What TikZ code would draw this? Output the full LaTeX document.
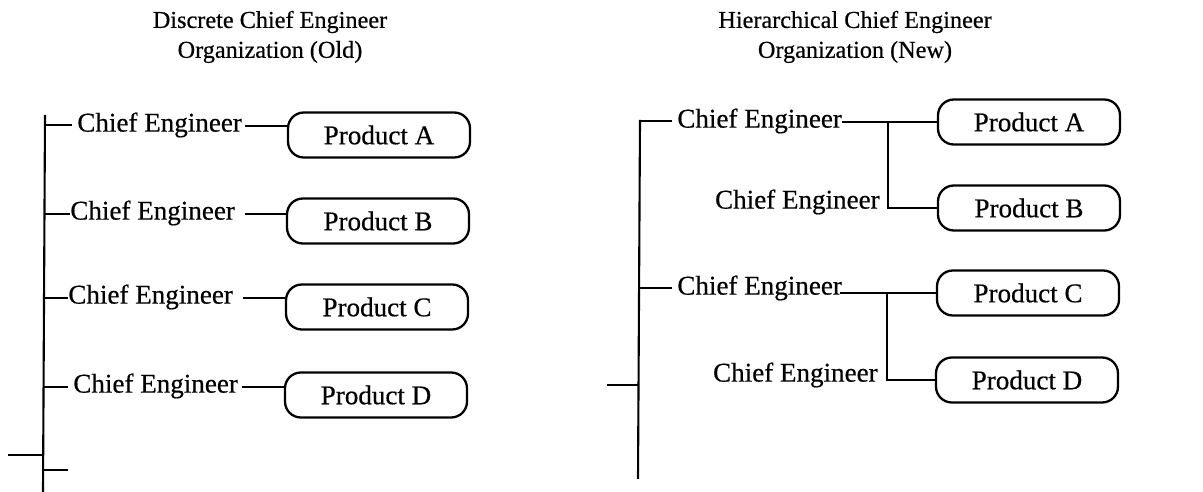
\documentclass[tikz,border=0pt]{standalone}
\usepackage{fontspec}
\setmainfont{Liberation Serif}[FakeBold=0.5]
\begin{document}
\begin{tikzpicture}[x=0.02cm,y=-0.02cm,
  line/.style={line width=1.2pt},
  cetext/.style={font=\fontsize{15.4}{18}\selectfont, inner sep=0pt},
  title/.style={font=\fontsize{13.8}{17}\selectfont, inner sep=0pt},
  prod/.style={draw, line width=1.3pt, rounded corners=9pt, minimum width=3.64cm, minimum height=0.9cm, inner sep=0pt, font=\fontsize{15.4}{18}\selectfont}]
\useasboundingbox (0,0) rectangle (1203,492);

% ---------- titles ----------
\node[title] (t1a) at (270,22) {Discrete Chief Engineer};
\node[title] (t1b) at (270,52) {Organization (Old)};
\node[title] (t2a) at (855,22) {Hierarchical Chief Engineer};
\node[title] (t2b) at (855,52) {Organization (New)};

% ---------- left panel ----------
\coordinate (Ltop) at (45,115);
\coordinate (Lbot) at (43,492);
\draw[line] (Ltop) -- (Lbot);

\node[cetext, anchor=west] (ceA) at (77,125) {Chief Engineer};
\node[cetext, anchor=west] (ceB) at (70,213) {Chief Engineer};
\node[cetext, anchor=west] (ceC) at (68,297) {Chief Engineer};
\node[cetext, anchor=west] (ceD) at (73,386) {Chief Engineer};

\node[prod] (pA) at (379,135) {Product A};
\node[prod] (pB) at (378,221) {Product B};
\node[prod] (pC) at (377,307) {Product C};
\node[prod] (pD) at (376,395) {Product D};

\coordinate (tkA) at (45,125);
\coordinate (tkB) at (44,214);
\coordinate (tkC) at (44,298);
\coordinate (tkD) at (43,387);
\draw[line] (tkA) -- (72,125);
\draw[line] (tkB) -- (ceB.west |- tkB);
\draw[line] (tkC) -- (ceC.west |- tkC);
\draw[line] (tkD) -- (68,387);

\coordinate (sA) at (245,126);
\coordinate (sB) at (245,214);
\coordinate (sC) at (243,298);
\coordinate (sD) at (242,387);
\draw[line] (sA) -- (sA -| pA.west);
\draw[line] (sB) -- (sB -| pB.west);
\draw[line] (sC) -- (sC -| pC.west);
\draw[line] (sD) -- (sD -| pD.west);

\coordinate (Lx1) at (8,455);
\draw[line] (Lx1) -- (43,455);
\coordinate (Lx2) at (68,470);
\draw[line] (43,470) -- (Lx2);

% ---------- right panel ----------
\coordinate (Rtop) at (640,120);
\coordinate (Rbot) at (638,479);
\draw[line] (Rtop) -- (Rbot);

\node[cetext, anchor=west] (rceA) at (677,121) {Chief Engineer};
\node[cetext, anchor=east] (rceB) at (880,202) {Chief Engineer};
\node[cetext, anchor=west] (rceC) at (677,288) {Chief Engineer};
\node[cetext, anchor=east] (rceD) at (878,375) {Chief Engineer};

\node[prod] (rpA) at (1029,122) {Product A};
\node[prod] (rpB) at (1029,208) {Product B};
\node[prod] (rpC) at (1028,293) {Product C};
\node[prod] (rpD) at (1027,380) {Product D};

\coordinate (rtA) at (640,121);
\coordinate (rtC) at (639,288);
\draw[line] (rtA) -- (672,121);
\draw[line] (rtC) -- (672,288);

\coordinate (rsA) at (842,122);
\coordinate (rbA) at (888,122);
\draw[line] (rsA) -- (rsA -| rpA.west);
\draw[line] (rbA) -- (rbA |- rpB.west) -- (rpB.west);

\coordinate (rsC) at (840,293);
\coordinate (rbC) at (887,293);
\draw[line] (rsC) -- (rsC -| rpC.west);
\draw[line] (rbC) -- (rbC |- rpD.west) -- (rpD.west);

\coordinate (Rx1) at (607,385);
\draw[line] (Rx1) -- (638,385);
\end{tikzpicture}
\end{document}
